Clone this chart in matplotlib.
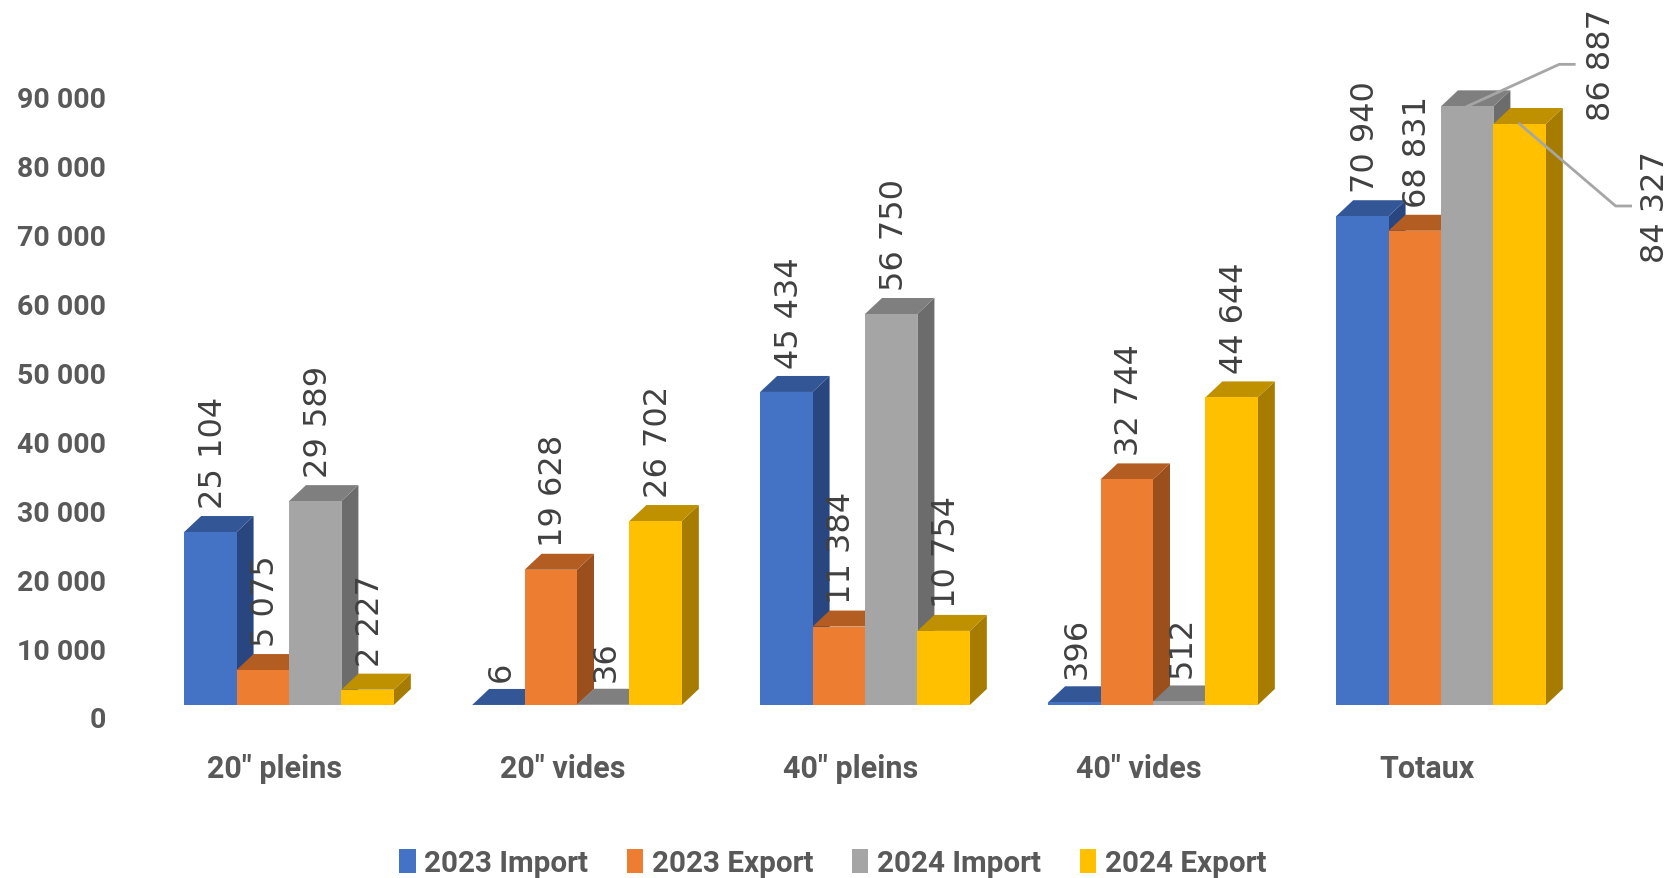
import matplotlib
matplotlib.use("Agg")
import matplotlib.pyplot as plt
from matplotlib.patches import Polygon, Patch

plt.rcParams["font.family"] = ["Roboto", "DejaVu Sans"]

categories = ['20" pleins', '20" vides', '40" pleins', '40" vides', "Totaux"]
series_names = ["2023 Import", "2023 Export", "2024 Import", "2024 Export"]
import_2023 = [25104, 6, 45434, 396, 70940]
export_2023 = [5075, 19628, 11384, 32744, 68831]
import_2024 = [29589, 36, 56750, 512, 86887]
export_2024 = [2227, 26702, 10754, 44644, 84327]
y_ticks = [0, 10000, 20000, 30000, 40000, 50000, 60000, 70000, 80000, 90000]

series = [import_2023, export_2023, import_2024, export_2024]
front_colors = ["#4472C4", "#ED7D31", "#A5A5A5", "#FFC000"]
top_colors = ["#335697", "#B45D22", "#7F7F7F", "#BF9000"]
side_colors = ["#2A4680", "#9A4F1C", "#6C6C6C", "#A67C00"]

W, H = 1668, 879
# pixel geometry of the chart
base_px = 706
px_per_unit = 0.00689
group_px = 288
first_center_px = 289
left_px = 110
bottom_px = 740
bar_w = 0.182
depth_x_px = 17
depth_y_px = 16
dx = depth_x_px / group_px
dy = depth_y_px / px_per_unit

fig = plt.figure(figsize=(W / 100, H / 100), dpi=100)
ax = fig.add_axes([left_px / W, (H - bottom_px) / H, (W - left_px) / W, bottom_px / H])
ax.set_xlim((left_px - first_center_px) / group_px, (W - first_center_px) / group_px)
ax.set_ylim((base_px - bottom_px) / px_per_unit, base_px / px_per_unit)

for g in range(len(categories)):
    for s in range(len(series)):
        v = series[s][g]
        x0 = g - 2 * bar_w + s * bar_w
        x1 = x0 + bar_w
        ax.add_patch(Polygon([(x1, 0), (x1 + dx, dy), (x1 + dx, v + dy), (x1, v)], fc=side_colors[s], ec="none", zorder=2))
        ax.add_patch(Polygon([(x0, v), (x0 + dx, v + dy), (x1 + dx, v + dy), (x1, v)], fc=top_colors[s], ec="none", zorder=2))
        ax.add_patch(Polygon([(x0, 0), (x1, 0), (x1, v), (x0, v)], fc=front_colors[s], ec="none", zorder=2))

# data labels, the two biggest ones sit outside with a leader line
leaders = {(4, 2): (92, 42, 134), (4, 3): (96, -82, 136)}
for g in range(len(categories)):
    for s in range(len(series)):
        v = series[s][g]
        xc = g - 2 * bar_w + (s + 0.5) * bar_w
        txt = "{:,}".format(v).replace(",", " ")
        if (g, s) in leaders:
            lx, ly, tx = leaders[(g, s)]
            xs = [xc, xc + lx / group_px, xc + (lx + 15) / group_px]
            ys = [v, v + ly / px_per_unit, v + ly / px_per_unit]
            ax.plot(xs, ys, color="#A6A6A6", lw=2, zorder=3)
            ax.annotate(txt, (xc, v), xytext=(tx, ly), textcoords="offset pixels", rotation=90,
                        ha="center", va="center", fontsize=23, color="#404040",
                        family=["DejaVu Sans"], zorder=4)
        else:
            ax.annotate(txt, (xc, v + dy), xytext=(3, 8), textcoords="offset pixels", rotation=90,
                        ha="center", va="bottom", fontsize=23, color="#404040",
                        family=["DejaVu Sans"], zorder=4)

y_shift = 12 / px_per_unit
x_shift = 14 / group_px
ax.set_yticks([t - y_shift for t in y_ticks])
ax.set_yticklabels(["{:,}".format(t).replace(",", " ") for t in y_ticks])
ax.set_xticks([g - x_shift for g in range(len(categories))])
ax.set_xticklabels(categories)
ax.tick_params(axis="x", length=0, labelcolor="#595959", labelsize=22, pad=10)
ax.tick_params(axis="y", length=0, labelcolor="#595959", labelsize=20.5, pad=3)
for lab in ax.get_xticklabels() + ax.get_yticklabels():
    lab.set_fontweight("bold")
for sp in ax.spines.values():
    sp.set_visible(False)

handles = [Patch(fc=c, ec="none") for c in front_colors]
fig.legend(handles, series_names, ncol=4, loc="center", bbox_to_anchor=(0.4993, 1 - 864 / H), frameon=False,
           prop={"size": 21.3, "weight": "bold"}, labelcolor="#595959", handlelength=0.55, handleheight=0.9,
           handletextpad=0.3, columnspacing=1.3, borderpad=0)

fig.savefig("out.png", dpi=100)
